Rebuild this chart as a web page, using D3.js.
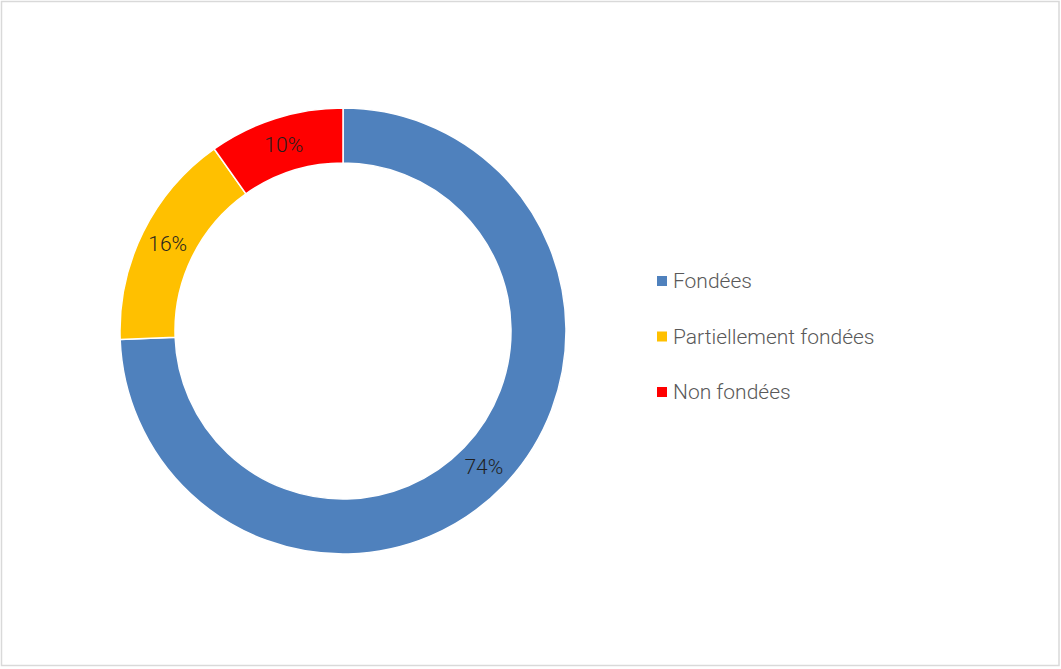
<!DOCTYPE html>
<html>
<head>
<meta charset="utf-8">
<script src="https://cdn.jsdelivr.net/npm/d3@7"></script>
<style>
  html, body { margin: 0; padding: 0; background: #fff; }
  svg { display: block; }
  text { font-family: Roboto, "Open Sans", sans-serif; font-weight: 300; }
</style>
</head>
<body>
<svg id="chart" width="1061" height="669"></svg>
<script>
// Répartition des réclamations (en %)
const categories = ["Fondées", "Partiellement fondées", "Non fondées"];
const shares = [74.4, 15.8, 9.8];
const colors = ["#4f81bd", "#ffc000", "#ff0000"];

const W = 1061, H = 669;
const svg = d3.select("#chart");

// Cadre du graphique
svg.append("rect")
  .attr("x", 1.5).attr("y", 1.5)
  .attr("width", W - 3.5).attr("height", H - 5)
  .attr("fill", "#fff")
  .attr("stroke", "#d9d9d9")
  .attr("stroke-width", 1.5);

const cx = 343, cy = 331;
const outerR = 223, innerR = 168;

const data = categories.map((c, i) => ({ name: c, value: shares[i], color: colors[i] }));

const pie = d3.pie().value(d => d.value).sort(null);
const arc = d3.arc().innerRadius(innerR).outerRadius(outerR);
const labelArc = d3.arc().innerRadius((innerR + outerR) / 2).outerRadius((innerR + outerR) / 2);

const g = svg.append("g").attr("transform", `translate(${cx},${cy})`);
const arcs = pie(data);

g.selectAll("path.slice")
  .data(arcs)
  .join("path")
  .attr("class", "slice")
  .attr("d", arc)
  .attr("fill", d => d.data.color)
  .attr("stroke", "#fff")
  .attr("stroke-width", 1.5);

g.selectAll("text.pct")
  .data(arcs)
  .join("text")
  .attr("class", "pct")
  .attr("transform", d => `translate(${labelArc.centroid(d)})`)
  .attr("text-anchor", "middle")
  .attr("dominant-baseline", "central")
  .attr("font-size", 21)
  .attr("fill", "#1f1f1f")
  .text(d => Math.round(d.data.value) + "%");

// Légende
const legend = svg.append("g").attr("transform", "translate(657,281)");
const rowH = 55.5;
const items = legend.selectAll("g.item")
  .data(data)
  .join("g")
  .attr("class", "item")
  .attr("transform", (d, i) => `translate(0,${i * rowH})`);

items.append("rect")
  .attr("x", 0).attr("y", -5)
  .attr("width", 10).attr("height", 10)
  .attr("fill", d => d.color);

items.append("text")
  .attr("x", 16)
  .attr("y", 0)
  .attr("dominant-baseline", "central")
  .attr("font-size", 21)
  .attr("fill", "#595959")
  .text(d => d.name);
</script>
</body>
</html>
